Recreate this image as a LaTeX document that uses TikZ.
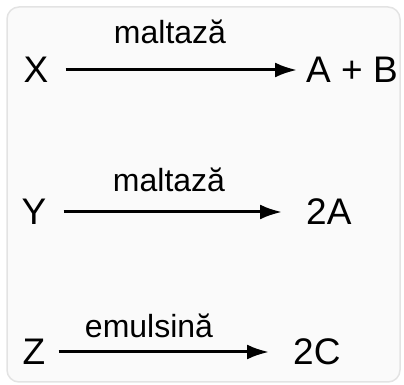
\documentclass[tikz,border=0pt]{standalone}
\usepackage{fontspec}
\setmainfont{Liberation Sans}
\usetikzlibrary{positioning,arrows.meta}
\tikzstyle{species}=[inner sep=0pt, anchor=base, text height=26pt, text depth=0pt, font=\fontsize{37}{41}\selectfont]
\tikzstyle{enzyme}=[inner sep=0pt, anchor=base, font=\fontsize{32}{36}\selectfont]

\begin{document}
\begin{tikzpicture}[
        x=1pt, y=1pt,
        line/.style={-{Latex[length=22pt,width=15pt]}, line width=3pt},
      ]
      \useasboundingbox (0,0) rectangle (404,385);
      \draw [fill=gray!4, draw=gray!22, line width=1.5pt, rounded corners=12pt] (7,3) rectangle (400,378);
      % first reaction
      \node (X) [species] at (36,302) {X};
      \node (AB) [species, anchor=base west] at (306,302) {A + B};
      \node (malt1) [enzyme] at (170,341) {maltază};
      % second reaction
      \node (Y) [species] at (34,160) {Y};
      \node (A2) [species, anchor=base west] at (306,160) {2A};
      \node (malt2) [enzyme] at (169,193) {maltază};
      % third reaction
      \node (Z) [species] at (34,20) {Z};
      \node (C2) [species, anchor=base west] at (293,20) {2C};
      \node (emul) [enzyme] at (149,47) {emulsină};
      \draw [line, shorten <=17pt, shorten >=9pt] (X.east) -- (X.east -| AB.west);
      \draw [line, shorten <=17pt, shorten >=24pt] (Y.east) -- (Y.east -| A2.west);
      \draw [line, shorten <=13pt, shorten >=24pt] (Z.east) -- (Z.east -| C2.west);
    \end{tikzpicture}
\end{document}
